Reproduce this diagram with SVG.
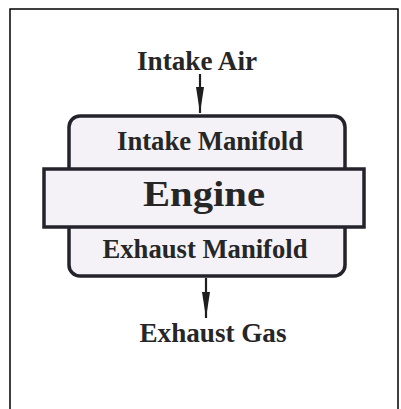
<svg xmlns="http://www.w3.org/2000/svg" width="401" height="409" viewBox="0 0 401 409">
<defs>
<style>
.t{font-family:"Liberation Serif","Times New Roman",serif;font-weight:bold;fill:#262626;text-anchor:middle}
.box{fill:#f4f2f6;stroke:#24232c;stroke-width:3.5}
.ln{stroke:#1e1e1e;stroke-width:2.2;fill:none}
</style>
<marker id="ah" viewBox="0 0 26 8" refX="26" refY="4" markerWidth="26" markerHeight="8" markerUnits="userSpaceOnUse" orient="auto">
<path d="M0,0 L0,8 L26,4 Z" fill="#1e1e1e"/>
</marker>
</defs>
<rect width="401" height="409" fill="#fff"/>
<path d="M10,409 V9 H398 V409" fill="none" stroke="#000" stroke-width="1.5"/>
<g id="manifold">
<rect class="box" x="69" y="116" width="276" height="160" rx="11"/>
<text class="t" x="210" y="150" font-size="27" textLength="186" lengthAdjust="spacingAndGlyphs">Intake Manifold</text>
<text class="t" x="205" y="258" font-size="27" textLength="205" lengthAdjust="spacingAndGlyphs">Exhaust Manifold</text>
</g>
<g id="engine">
<rect class="box" x="44" y="169" width="320" height="58" stroke-width="3"/>
<text class="t" x="204" y="206" font-size="35" textLength="122" lengthAdjust="spacingAndGlyphs">Engine</text>
</g>
<g id="intake-air">
<text class="t" x="197" y="70" font-size="27" textLength="120" lengthAdjust="spacingAndGlyphs">Intake Air</text>
</g>
<g id="exhaust-gas">
<text class="t" x="213" y="342" font-size="27" textLength="147" lengthAdjust="spacingAndGlyphs">Exhaust Gas</text>
</g>
<g id="connectors">
<line class="ln" x1="200" y1="74" x2="200" y2="113" marker-end="url(#ah)"/>
<line class="ln" x1="206" y1="278" x2="206" y2="318" marker-end="url(#ah)"/>
</g>
</svg>
